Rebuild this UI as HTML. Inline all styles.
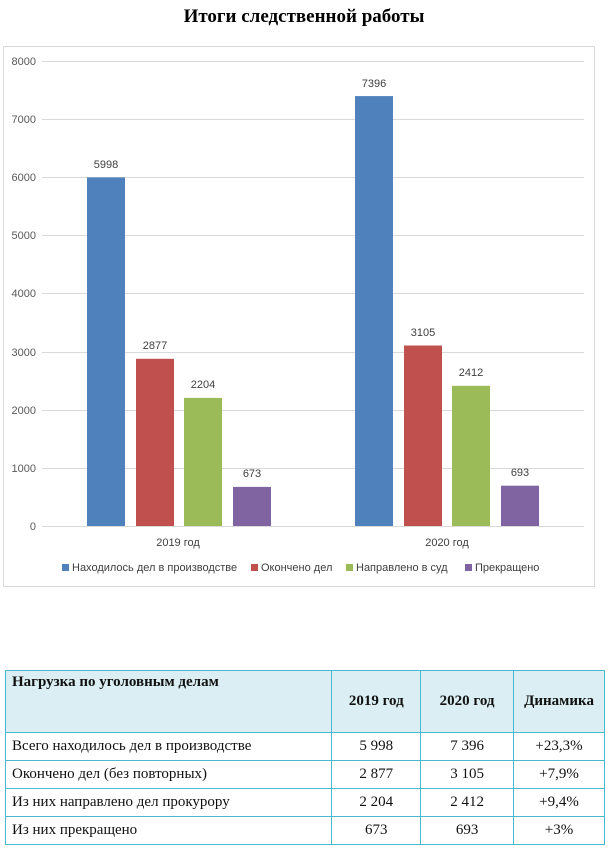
<!DOCTYPE html>
<html><head><meta charset="utf-8"><style>
body{margin:0;width:608px;height:850px;background:#fff;position:relative;overflow:hidden}
svg{position:absolute;left:0;top:0}
table{position:absolute;left:5px;top:670px;width:600px;border-collapse:collapse;font-family:"Liberation Serif",serif;font-size:15px;color:#111}
td{border:1.5px solid #4bb8cf;padding:0 6px;height:27px}
tr.h td{background:#daeef3;height:58px;font-weight:bold;text-align:center}
tr.h td:first-child{text-align:left;vertical-align:top;padding-top:3px}
td.c{text-align:center}
</style></head><body>
<svg width="608" height="670" font-family="Liberation Sans, DejaVu Sans, sans-serif">
<text x="304" y="22" text-anchor="middle" font-family="Liberation Serif, serif" font-weight="bold" font-size="19">Итоги следственной работы</text>
<rect x="3.5" y="46.5" width="591" height="540" fill="#fff" stroke="#d9d9d9"/>
<g stroke="#d9d9d9" stroke-width="1">
<line x1="42" x2="584" y1="61.5" y2="61.5"/><line x1="42" x2="584" y1="119.5" y2="119.5"/>
<line x1="42" x2="584" y1="177.5" y2="177.5"/><line x1="42" x2="584" y1="235.5" y2="235.5"/>
<line x1="42" x2="584" y1="293.5" y2="293.5"/><line x1="42" x2="584" y1="352.5" y2="352.5"/>
<line x1="42" x2="584" y1="410.5" y2="410.5"/><line x1="42" x2="584" y1="468.5" y2="468.5"/>
<line x1="42" x2="584" y1="526.5" y2="526.5"/>
</g>
<g font-size="11" fill="#595959" text-anchor="end">
<text x="36" y="65">8000</text><text x="36" y="123">7000</text><text x="36" y="181">6000</text>
<text x="36" y="239">5000</text><text x="36" y="297">4000</text><text x="36" y="356">3000</text>
<text x="36" y="414">2000</text><text x="36" y="472">1000</text><text x="36" y="530">0</text>
</g>
<rect x="87" y="177.4" width="38" height="348.6" fill="#4f81bd"/>
<rect x="136" y="358.8" width="38" height="167.2" fill="#c0504d"/>
<rect x="184" y="397.9" width="38" height="128.1" fill="#9bbb59"/>
<rect x="233" y="486.9" width="38" height="39.1" fill="#8064a2"/>
<rect x="355" y="96.1" width="38" height="429.9" fill="#4f81bd"/>
<rect x="404" y="345.5" width="38" height="180.5" fill="#c0504d"/>
<rect x="452" y="385.8" width="38" height="140.2" fill="#9bbb59"/>
<rect x="501" y="485.7" width="38" height="40.3" fill="#8064a2"/>
<g font-size="11" fill="#404040" text-anchor="middle">
<text x="106" y="168">5998</text><text x="155" y="349">2877</text><text x="203" y="388">2204</text><text x="252" y="477">673</text>
<text x="374" y="87">7396</text><text x="423" y="336">3105</text><text x="471" y="376">2412</text><text x="520" y="476">693</text>
<text x="178" y="546">2019 год</text><text x="447" y="546">2020 год</text>
</g>
<g font-size="11" fill="#404040">
<rect x="62" y="564" width="7" height="7" fill="#4f81bd"/><text x="72" y="571">Находилось дел в производстве</text>
<rect x="251" y="564" width="7" height="7" fill="#c0504d"/><text x="261" y="571">Окончено дел</text>
<rect x="346" y="564" width="7" height="7" fill="#9bbb59"/><text x="356" y="571">Направлено в суд</text>
<rect x="465" y="564" width="7" height="7" fill="#8064a2"/><text x="475" y="571">Прекращено</text>
</g>
</svg>
<table>
<colgroup><col style="width:327px"><col style="width:89px"><col style="width:93px"><col style="width:91px"></colgroup>
<tr class="h"><td>Нагрузка по уголовным делам</td><td>2019 год</td><td>2020 год</td><td>Динамика</td></tr>
<tr><td>Всего находилось дел в производстве</td><td class="c">5 998</td><td class="c">7 396</td><td class="c">+23,3%</td></tr>
<tr><td>Окончено дел (без повторных)</td><td class="c">2 877</td><td class="c">3 105</td><td class="c">+7,9%</td></tr>
<tr><td>Из них направлено дел прокурору</td><td class="c">2 204</td><td class="c">2 412</td><td class="c">+9,4%</td></tr>
<tr><td>Из них прекращено</td><td class="c">673</td><td class="c">693</td><td class="c">+3%</td></tr>
</table>
</body></html>
